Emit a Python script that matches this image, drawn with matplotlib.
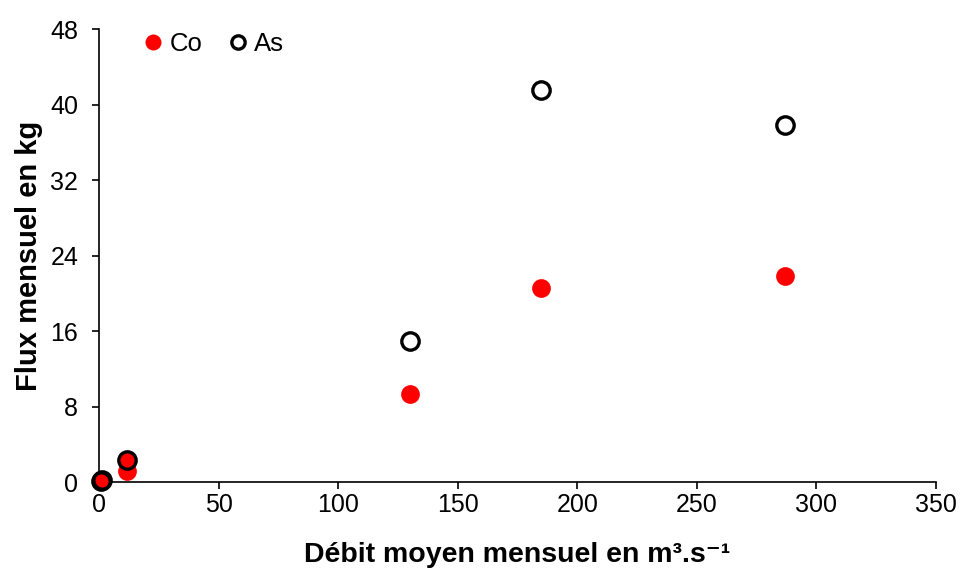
import matplotlib.pyplot as plt

plt.rcParams['font.family'] = ['Liberation Sans', 'DejaVu Sans']

# debit moyen mensuel (m3/s) et flux (kg)
co_x = [0.9, 1.4, 11.6, 11.6, 130, 185, 287]
co_y = [0.1, 0.2, 1.2, 2.4, 9.3, 20.6, 21.8]
as_x = [0.9, 1.4, 11.6, 130, 185, 287]
as_y = [0.1, 0.2, 2.4, 15.0, 41.6, 37.8]

x_ticks = [0, 50, 100, 150, 200, 250, 300, 350]
y_ticks = [0, 8, 16, 24, 32, 40, 48]

fig = plt.figure(figsize=(9.61, 5.72), dpi=100)
ax = fig.add_axes([0.103, 0.157, 0.871, 0.792])

ax.plot(co_x, co_y, 'o', color='#ff0000', markersize=13.5, markeredgewidth=0,
        label='Co', zorder=3, clip_on=False)
ax.plot(as_x, as_y, 'o', markerfacecolor='none', markeredgecolor='black',
        markersize=12.5, markeredgewidth=2.4, label='As', zorder=4, clip_on=False)

ax.set_xlim(0, 350)
ax.set_ylim(0, 48)
ax.set_xticks(x_ticks)
ax.set_yticks(y_ticks)
ax.tick_params(labelsize=18, direction='out', length=5, width=1.2)
ax.tick_params(axis='y', pad=10)
ax.tick_params(axis='x', pad=3)

for s in ['top', 'right']:
    ax.spines[s].set_visible(False)
for s in ['left', 'bottom']:
    ax.spines[s].set_linewidth(1.2)

ax.set_xlabel('Débit moyen mensuel en m³.s⁻¹',
              fontsize=20.5, fontweight='bold', labelpad=18)
ax.set_ylabel('Flux mensuel en kg', fontsize=21, fontweight='bold', labelpad=5)

leg = ax.legend(loc='upper left', ncol=2, frameon=False, fontsize=18.5,
                handlelength=1.0, handletextpad=0.15, columnspacing=0.85,
                bbox_to_anchor=(0.022, 1.045))
leg.legend_handles[0].set_markersize(11.5)
leg.legend_handles[1].set_markersize(9.6)
leg.legend_handles[1].set_markeredgewidth(2.4)

fig.savefig('out.png', dpi=100)
